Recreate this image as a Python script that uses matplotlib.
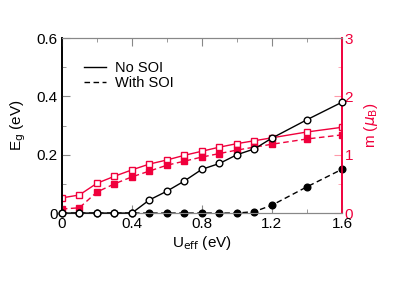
import matplotlib.pyplot as plt
from matplotlib.ticker import MultipleLocator
from matplotlib.lines import Line2D

plt.rcParams['font.family'] = ['Liberation Sans', 'DejaVu Sans']

# 数据
u = [0.0, 0.1, 0.2, 0.3, 0.4, 0.5, 0.6, 0.7, 0.8, 0.9, 1.0, 1.1, 1.2, 1.4, 1.6]
eg_nosoi = [0, 0, 0, 0, 0, 0.045, 0.075, 0.11, 0.15, 0.17, 0.20, 0.22, 0.257, 0.32, 0.38]
eg_soi = [0, 0, 0, 0, 0, 0, 0, 0, 0, 0, 0, 0.005, 0.027, 0.09, 0.15]
m_nosoi = [0.26, 0.31, 0.51, 0.63, 0.74, 0.84, 0.91, 0.99, 1.06, 1.13, 1.19, 1.24, 1.29, 1.39, 1.47]
m_soi = [0.07, 0.09, 0.36, 0.50, 0.62, 0.72, 0.82, 0.89, 0.96, 1.02, 1.08, 1.13, 1.18, 1.27, 1.34]

red = '#f0003c'
dash = (4, 2.5)

fig = plt.figure(figsize=(4.15, 2.86), dpi=100)
ax1 = fig.add_axes([0.149, 0.255, 0.675, 0.612])
ax2 = ax1.twinx()

# 磁矩（右轴）
ax2.plot(u, m_nosoi, '-', color=red, lw=1, marker='s', ms=4.5, mfc='white', mec=red, mew=1, zorder=2)
ax2.plot(u, m_soi, '--', dashes=dash, color=red, lw=1, marker='s', ms=4.5, mfc=red, mec=red, zorder=2)

# 带隙（左轴），画在 ax2 上方
ax1.set_zorder(ax2.get_zorder() + 1)
ax1.patch.set_visible(False)
ax1.plot(u, eg_soi, '--', dashes=dash, color='black', lw=1, marker='o', ms=4.8, mfc='black', mec='black', zorder=2, clip_on=False)
ax1.plot(u, eg_nosoi, '-', color='black', lw=1, marker='o', ms=4.8, mfc='white', mec='black', zorder=3, clip_on=False)

ax1.set_xlim(0, 1.6)
ax1.set_ylim(0, 0.6)
ax2.set_ylim(0, 3)

ax1.xaxis.set_major_locator(MultipleLocator(0.4))
ax1.xaxis.set_minor_locator(MultipleLocator(0.2))
ax1.yaxis.set_major_locator(MultipleLocator(0.2))
ax1.yaxis.set_minor_locator(MultipleLocator(0.1))
ax2.yaxis.set_major_locator(MultipleLocator(1))
ax2.yaxis.set_minor_locator(MultipleLocator(0.5))
ax1.xaxis.set_major_formatter(plt.FuncFormatter(lambda v, p: '0' if v == 0 else f'{v:.1f}'))
ax1.yaxis.set_major_formatter(plt.FuncFormatter(lambda v, p: '0' if v == 0 else f'{v:.1f}'))

ax1.tick_params(which='both', direction='in', top=True, right=False, color='#888888', labelsize=11, pad=3)
ax1.tick_params(which='major', length=6)
ax1.tick_params(which='minor', length=3)
ax2.tick_params(which='both', direction='in', color='#ff9aaa', labelcolor=red, labelsize=11, pad=2)
ax2.tick_params(which='major', length=6)
ax2.tick_params(which='minor', length=3)

for ax in (ax1, ax2):
    ax.spines['top'].set_color('#888888')
    ax.spines['bottom'].set_color('#888888')
    ax.spines['left'].set_color('black')
    ax.spines['right'].set_color(red)
    ax.spines['left'].set_linewidth(1.2)
    ax.spines['right'].set_linewidth(1.2)

ax1.set_xlabel(r'U$_{\mathrm{eff}}$ (eV)', fontsize=11, labelpad=2)
ax1.set_ylabel(r'E$_{\mathrm{g}}$ (eV)', fontsize=11, labelpad=6)
ax2.set_ylabel(r'm ($\mu_{\mathrm{B}}$)', fontsize=11, color=red, labelpad=6)

handles = [Line2D([], [], color='black', lw=1, ls='-'),
           Line2D([], [], color='black', lw=1, ls='--', dashes=dash)]
ax1.legend(handles, ['No SOI', 'With SOI'], loc='upper left', bbox_to_anchor=(0.06, 0.9),
           frameon=False, fontsize=10.5, handlelength=1.5, handletextpad=0.6,
           labelspacing=0.05, borderaxespad=0)

plt.savefig('out.png', dpi=100)
